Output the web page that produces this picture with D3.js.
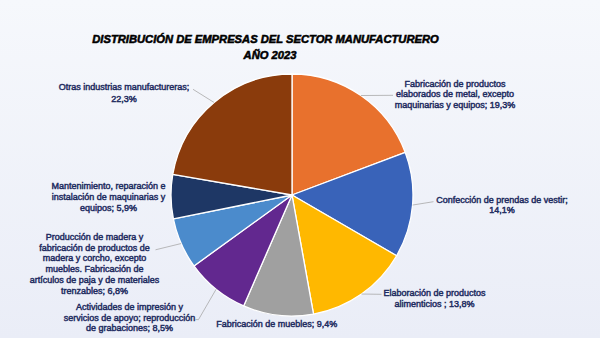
<!DOCTYPE html>
<html><head><meta charset="utf-8">
<script src="https://cdn.jsdelivr.net/npm/d3@7"></script>
<style>html,body{margin:0;padding:0;}svg{display:block;}</style>
</head><body>
<svg id="chart" width="600" height="338"></svg>
<script>
// ---- data ----
const categories = [
  "Fabricación de productos elaborados de metal, excepto maquinarias y equipos",
  "Confección de prendas de vestir",
  "Elaboración de productos alimenticios ",
  "Fabricación de muebles",
  "Actividades de impresión y servicios de apoyo; reproducción de grabaciones",
  "Producción de madera y fabricación de productos de madera y corcho, excepto muebles. Fabricación de artículos de paja y de materiales trenzables",
  "Mantenimiento, reparación e instalación de maquinarias y equipos",
  "Otras industrias manufactureras"
];
const values = [19.3, 14.1, 13.8, 9.4, 8.5, 6.8, 5.9, 22.3];
const valueLabels = ["19,3%", "14,1%", "13,8%", "9,4%", "8,5%", "6,8%", "5,9%", "22,3%"];
const titleLines = ["DISTRIBUCIÓN DE EMPRESAS DEL SECTOR MANUFACTURERO", "AÑO 2023"];

// ---- styling / layout ----
const colors = ["#E8712D", "#3963B9", "#FFB800", "#A0A0A0", "#62288F", "#4B8BCC", "#1E3765", "#8A3B0C"];
const labelLines = [
  ["Fabricación de productos", "elaborados de metal, excepto", "maquinarias y equipos; 19,3%"],
  ["Confección de prendas de vestir;", "14,1%"],
  ["Elaboración de productos", "alimenticios ; 13,8%"],
  ["Fabricación de muebles; 9,4%"],
  ["Actividades de impresión y", "servicios de apoyo; reproducción", "de grabaciones; 8,5%"],
  ["Producción de madera y", "fabricación de productos de", "madera y corcho, excepto", "muebles. Fabricación de", "artículos de paja y de materiales", "trenzables; 6,8%"],
  ["Mantenimiento, reparación e", "instalación de maquinarias y", "equipos; 5,9%"],
  ["Otras industrias manufactureras;", "22,3%"]
];
const labelLayout = [
  {x: 455, y: 86.5, lh: 10.5, leader: [[393, 95.3]]},
  {x: 502, y: 202.5, lh: 10.7, leader: [[433.5, 201.7]]},
  {x: 434.5, y: 295.5, lh: 11, leader: [[381.5, 294.3]]},
  {x: 276.7, y: 327.2, lh: 10.8, leader: null},
  {x: 129.5, y: 310, lh: 10.6, leader: [[198.5, 319.6], [195.5, 319.6]]},
  {x: 94.5, y: 240, lh: 10.7, leader: [[155.5, 249.8]]},
  {x: 108.5, y: 189.3, lh: 11, leader: null},
  {x: 124, y: 90, lh: 11.5, leader: [[193, 89.3]]}
];

const W = 600, H = 338;
const cx = 292, cy = 195, R = 121;
const svg = d3.select("#chart");

const defs = svg.append("defs");
const grad = defs.append("linearGradient").attr("id", "bg").attr("x1", 0).attr("y1", 0).attr("x2", 0).attr("y2", 1);
grad.append("stop").attr("offset", "0%").attr("stop-color", "#F6F8FC");
grad.append("stop").attr("offset", "100%").attr("stop-color", "#EAEDF7");
svg.append("rect").attr("width", W).attr("height", H).attr("fill", "url(#bg)");

// title
const title = svg.append("g")
  .attr("font-family", "Liberation Sans, Arial, sans-serif")
  .attr("font-size", 11.2).attr("font-weight", "bold").attr("font-style", "italic")
  .attr("fill", "#000").attr("stroke", "#000").attr("stroke-width", 0.55)
  .attr("text-anchor", "middle");
title.append("text").attr("x", 265.5).attr("y", 43).text(titleLines[0]);
title.append("text").attr("x", 270).attr("y", 59.3).text(titleLines[1]);

// pie
const data = categories.map((c, i) => ({category: c, value: values[i], i}));
const pie = d3.pie().value(d => d.value).sort(null);
const arcs = pie(data);
const arc = d3.arc().innerRadius(0).outerRadius(R);
const g = svg.append("g").attr("transform", `translate(${cx},${cy})`);
g.selectAll("path").data(arcs).join("path")
  .attr("d", arc)
  .attr("fill", d => colors[d.data.i])
  .attr("stroke", "#FFFFFF").attr("stroke-width", 1.3).attr("stroke-linejoin", "round");

// leader lines
const lineGen = d3.line();
arcs.forEach(a => {
  const lay = labelLayout[a.data.i];
  if (!lay.leader) return;
  const mid = (a.startAngle + a.endAngle) / 2;
  const p0 = [cx + R * Math.sin(mid), cy - R * Math.cos(mid)];
  svg.append("path").attr("d", lineGen([p0, ...lay.leader]))
    .attr("fill", "none").attr("stroke", "#A8A8A8").attr("stroke-width", 0.8);
});

// labels
arcs.forEach(a => {
  const i = a.data.i, lay = labelLayout[i];
  const t = svg.append("text")
    .attr("text-anchor", "middle")
    .attr("font-family", "Liberation Sans, Arial, sans-serif")
    .attr("font-size", 9).attr("fill", "#1D2B60")
    .attr("stroke", "#1D2B60").attr("stroke-width", 0.45);
  labelLines[i].forEach((ln, k) => {
    t.append("tspan").attr("x", lay.x).attr("y", lay.y + k * lay.lh).text(ln);
  });
});
</script>
</body></html>
